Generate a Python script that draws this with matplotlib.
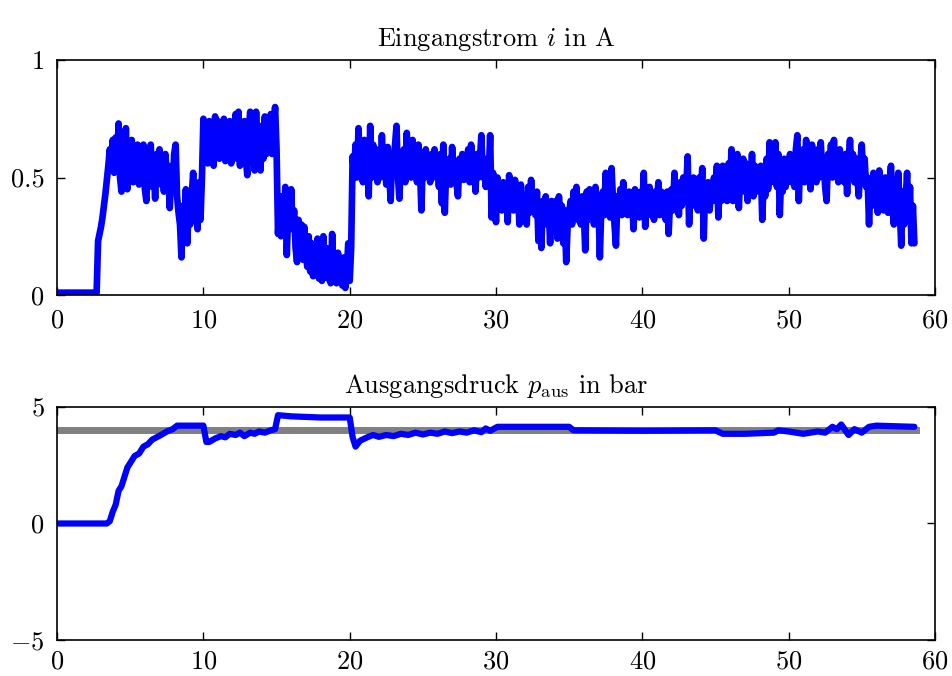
import numpy as np
import matplotlib
matplotlib.use("Agg")
import matplotlib.pyplot as plt

plt.rcParams["font.family"] = "serif"
plt.rcParams["font.serif"] = ["cmr10", "DejaVu Serif"]
plt.rcParams["mathtext.fontset"] = "cm"
plt.rcParams["axes.formatter.use_mathtext"] = True
plt.rcParams["axes.unicode_minus"] = True

# Input current i in A, sampled every 0.1 s (one row per second)
dt_current = 0.1
current = [
    0.01, 0.01, 0.01, 0.01, 0.01, 0.01, 0.01, 0.01, 0.01, 0.01,
    0.01, 0.01, 0.01, 0.01, 0.01, 0.01, 0.01, 0.01, 0.01, 0.01,
    0.01, 0.01, 0.01, 0.01, 0.01, 0.01, 0.01, 0.01, 0.23, 0.26,
    0.29, 0.33, 0.38, 0.43, 0.49, 0.55, 0.62, 0.56, 0.66, 0.52,
    0.67, 0.55, 0.73, 0.50, 0.44, 0.62, 0.52, 0.71, 0.45, 0.60,
    0.52, 0.66, 0.48, 0.60, 0.50, 0.64, 0.47, 0.58, 0.50, 0.64,
    0.45, 0.40, 0.58, 0.50, 0.64, 0.46, 0.56, 0.41, 0.60, 0.48,
    0.62, 0.47, 0.56, 0.44, 0.60, 0.50, 0.55, 0.37, 0.52, 0.45,
    0.60, 0.64, 0.42, 0.35, 0.30, 0.16, 0.38, 0.28, 0.45, 0.22,
    0.40, 0.30, 0.42, 0.52, 0.35, 0.45, 0.28, 0.48, 0.32, 0.50,
    0.75, 0.58, 0.72, 0.56, 0.74, 0.60, 0.70, 0.55, 0.76, 0.62,
    0.74, 0.58, 0.72, 0.60, 0.75, 0.57, 0.70, 0.62, 0.74, 0.56,
    0.72, 0.60, 0.77, 0.58, 0.78, 0.55, 0.70, 0.62, 0.74, 0.58,
    0.51, 0.70, 0.78, 0.58, 0.72, 0.53, 0.78, 0.60, 0.70, 0.53,
    0.72, 0.58, 0.76, 0.60, 0.73, 0.62, 0.77, 0.60, 0.72, 0.80,
    0.62, 0.26, 0.38, 0.25, 0.42, 0.30, 0.46, 0.17, 0.36, 0.30,
    0.45, 0.28, 0.36, 0.20, 0.14, 0.32, 0.22, 0.30, 0.15, 0.29,
    0.18, 0.12, 0.25, 0.10, 0.22, 0.08, 0.20, 0.12, 0.24, 0.07,
    0.18, 0.06, 0.25, 0.10, 0.20, 0.07, 0.16, 0.05, 0.26, 0.08,
    0.15, 0.05, 0.18, 0.08, 0.12, 0.04, 0.16, 0.03, 0.10, 0.22,
    0.06, 0.20, 0.59, 0.52, 0.64, 0.50, 0.71, 0.55, 0.62, 0.48,
    0.66, 0.55, 0.60, 0.42, 0.72, 0.50, 0.64, 0.55, 0.60, 0.48,
    0.62, 0.50, 0.68, 0.54, 0.58, 0.47, 0.63, 0.52, 0.40, 0.60,
    0.55, 0.64, 0.72, 0.50, 0.41, 0.60, 0.52, 0.62, 0.48, 0.69,
    0.55, 0.62, 0.50, 0.66, 0.52, 0.58, 0.48, 0.64, 0.55, 0.36,
    0.58, 0.50, 0.62, 0.52, 0.57, 0.48, 0.60, 0.50, 0.62, 0.52,
    0.56, 0.46, 0.60, 0.39, 0.64, 0.35, 0.55, 0.50, 0.58, 0.47,
    0.63, 0.52, 0.57, 0.48, 0.42, 0.58, 0.50, 0.60, 0.49, 0.56,
    0.50, 0.62, 0.48, 0.64, 0.52, 0.58, 0.44, 0.60, 0.50, 0.57,
    0.68, 0.50, 0.58, 0.46, 0.55, 0.50, 0.68, 0.33, 0.52, 0.44,
    0.31, 0.50, 0.40, 0.46, 0.36, 0.48, 0.38, 0.44, 0.31, 0.51,
    0.40, 0.46, 0.36, 0.49, 0.38, 0.45, 0.30, 0.47, 0.35, 0.42,
    0.40, 0.30, 0.46, 0.35, 0.49, 0.38, 0.42, 0.34, 0.44, 0.23,
    0.38, 0.20, 0.40, 0.32, 0.42, 0.30, 0.38, 0.22, 0.40, 0.34,
    0.30, 0.40, 0.24, 0.42, 0.32, 0.38, 0.22, 0.36, 0.14, 0.30,
    0.35, 0.40, 0.30, 0.44, 0.34, 0.46, 0.32, 0.40, 0.30, 0.42,
    0.36, 0.19, 0.44, 0.32, 0.45, 0.36, 0.42, 0.30, 0.46, 0.35,
    0.40, 0.16, 0.38, 0.44, 0.34, 0.52, 0.36, 0.44, 0.33, 0.54,
    0.40, 0.30, 0.21, 0.42, 0.36, 0.45, 0.34, 0.48, 0.38, 0.42,
    0.34, 0.44, 0.36, 0.42, 0.28, 0.45, 0.35, 0.40, 0.33, 0.44,
    0.36, 0.52, 0.29, 0.44, 0.36, 0.46, 0.34, 0.42, 0.32, 0.44,
    0.38, 0.48, 0.34, 0.44, 0.36, 0.40, 0.32, 0.44, 0.26, 0.40,
    0.45, 0.36, 0.52, 0.38, 0.46, 0.34, 0.48, 0.38, 0.50, 0.40,
    0.44, 0.59, 0.30, 0.46, 0.38, 0.50, 0.40, 0.46, 0.36, 0.50,
    0.42, 0.54, 0.24, 0.46, 0.38, 0.48, 0.36, 0.44, 0.40, 0.50,
    0.42, 0.55, 0.33, 0.50, 0.40, 0.55, 0.44, 0.52, 0.40, 0.56,
    0.46, 0.62, 0.40, 0.55, 0.44, 0.60, 0.37, 0.52, 0.46, 0.58,
    0.44, 0.56, 0.40, 0.52, 0.46, 0.60, 0.42, 0.55, 0.44, 0.50,
    0.46, 0.55, 0.32, 0.50, 0.42, 0.58, 0.45, 0.65, 0.48, 0.62,
    0.50, 0.65, 0.46, 0.60, 0.34, 0.52, 0.44, 0.58, 0.46, 0.55,
    0.50, 0.60, 0.48, 0.56, 0.46, 0.62, 0.68, 0.40, 0.58, 0.50,
    0.62, 0.48, 0.66, 0.50, 0.60, 0.45, 0.64, 0.52, 0.58, 0.48,
    0.62, 0.50, 0.65, 0.52, 0.58, 0.46, 0.40, 0.60, 0.52, 0.64,
    0.50, 0.66, 0.52, 0.60, 0.48, 0.62, 0.54, 0.58, 0.48, 0.60,
    0.43, 0.58, 0.66, 0.50, 0.60, 0.48, 0.58, 0.50, 0.42, 0.56,
    0.64, 0.52, 0.58, 0.46, 0.50, 0.30, 0.48, 0.38, 0.52, 0.40,
    0.46, 0.35, 0.53, 0.40, 0.48, 0.36, 0.50, 0.42, 0.35, 0.48,
    0.55, 0.38, 0.30, 0.46, 0.40, 0.52, 0.36, 0.21, 0.44, 0.30,
    0.40, 0.52, 0.32, 0.46, 0.22, 0.38, 0.22,
]
t_current = np.arange(len(current)) * dt_current

# Output pressure p_aus in bar
t_pressure = [0, 3.4, 3.6, 3.8, 4.0, 4.2, 4.4, 4.6, 4.8, 5.0,
              5.3, 5.6, 5.9, 6.2, 6.5, 6.8, 7.1, 7.5, 7.9, 8.2,
              9.0, 10.0, 10.2, 10.4, 10.8, 11.2, 11.5, 11.8, 12.2, 12.5,
              12.8, 13.2, 13.5, 13.8, 14.2, 14.6, 14.9, 15.1, 16, 18,
              20.0, 20.2, 20.4, 20.7, 21.2, 21.6, 22.0, 22.5, 23.0, 23.5,
              24.0, 24.5, 25.0, 25.5, 26.0, 26.5, 27.0, 27.5, 28.0, 28.5,
              29.0, 29.3, 29.6, 30.1, 32, 35.0, 35.3, 40, 45, 45.5,
              47, 49, 49.3, 50, 51, 52, 52.5, 53.0, 53.3, 53.6,
              54.1, 54.5, 55, 55.5, 56, 58.6]
pressure = [0, 0, 0.1, 0.5, 0.8, 1.4, 1.6, 2.0, 2.4, 2.6,
            2.9, 3.0, 3.3, 3.4, 3.6, 3.7, 3.8, 3.95, 4.05, 4.2,
            4.2, 4.2, 3.5, 3.5, 3.65, 3.75, 3.7, 3.85, 3.8, 3.9,
            3.75, 3.9, 3.85, 3.95, 3.9, 4.0, 4.05, 4.65, 4.6, 4.55,
            4.55, 3.7, 3.3, 3.55, 3.7, 3.8, 3.72, 3.8, 3.75, 3.85,
            3.8, 3.9, 3.82, 3.9, 3.85, 3.95, 3.88, 3.95, 3.9, 4.0,
            3.92, 4.08, 3.98, 4.15, 4.15, 4.15, 4.0, 3.98, 4.0, 3.85,
            3.85, 3.9, 4.0, 3.95, 3.85, 3.95, 3.9, 4.15, 4.05, 4.25,
            3.8, 4.05, 3.9, 4.15, 4.2, 4.15]

# Pressure setpoint
t_setpoint = [0, 58.7]
setpoint = [4, 4]

fig = plt.figure(figsize=(9.52, 6.76), dpi=100)
ax1 = fig.add_axes([0.060, 0.5636, 0.922, 0.3476])
ax2 = fig.add_axes([0.060, 0.0533, 0.922, 0.3446])

blue = "#0000ff"
gray = "#808080"

ax1.plot(t_current, current, color=blue, lw=4.8, solid_joinstyle="round",
         solid_capstyle="round")
ax1.set_xlim(0, 60)
ax1.set_ylim(0, 1)
ax1.set_yticks([0, 0.5, 1])
ax1.set_yticklabels(["0", "0.5", "1"])
ax1.set_title(r"Eingangstrom $i$ in A", fontsize=19, pad=10)

ax2.plot(t_setpoint, setpoint, color=gray, lw=5)
ax2.plot(t_pressure, pressure, color=blue, lw=4.5, solid_joinstyle="round",
         solid_capstyle="round")
ax2.set_xlim(0, 60)
ax2.set_ylim(-5, 5)
ax2.set_yticks([-5, 0, 5])
ax2.set_yticklabels([r"$-5$", "0", "5"])
ax2.set_title(r"Ausgangsdruck $p_{\mathrm{aus}}$ in bar", fontsize=19, pad=10)

for ax in (ax1, ax2):
    ax.set_xticks(range(0, 61, 10))
    ax.tick_params(direction="in", top=True, right=True, length=6, width=1,
                   labelsize=19)
    ax.tick_params(axis="y", pad=9)
    for s in ax.spines.values():
        s.set_linewidth(1.2)
ax1.tick_params(axis="x", pad=10)
ax2.tick_params(axis="x", pad=7)

fig.savefig("out.png", dpi=100)
